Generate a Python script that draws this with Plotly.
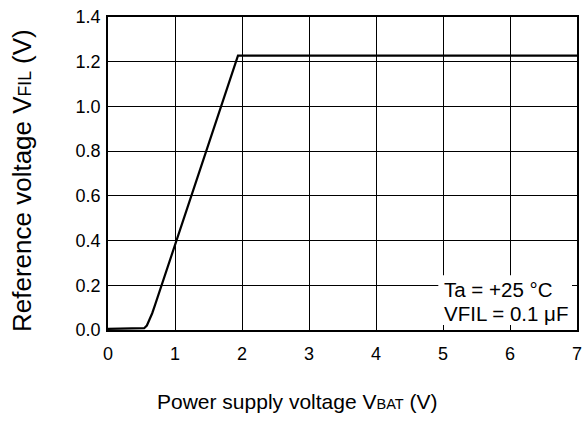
import plotly.graph_objects as go

vbat = [0.0, 0.50, 0.54, 0.58, 0.62, 0.66, 0.70, 0.80, 0.90, 1.00, 1.20, 1.40, 1.60, 1.80, 1.94, 3.0, 5.0, 7.0]
vfil = [0.005, 0.005, 0.008, 0.02, 0.045, 0.075, 0.11, 0.20, 0.29, 0.375, 0.555, 0.735, 0.92, 1.10, 1.227, 1.227, 1.227, 1.227]

x_ticks = [0, 1, 2, 3, 4, 5, 6, 7]
y_ticks = [0.0, 0.2, 0.4, 0.6, 0.8, 1.0, 1.2, 1.4]
y_labels = ["0.0", "0.2", "0.4", "0.6", "0.8", "1.0", "1.2", "1.4"]

FONT = "Liberation Sans, Arial, sans-serif"

W, H = 584, 422
L, R, T, B = 108, 7, 17, 92
pw, ph = W - L - R, H - T - B

def px_to_paper_x(px):
    return (px - L) / pw

def px_to_paper_y(py):
    return (H - B - py) / ph

fig = go.Figure()
fig.add_trace(go.Scatter(x=vbat, y=vfil, mode="lines",
                         line=dict(color="black", width=2.2),
                         hoverinfo="skip", showlegend=False))

fig.add_shape(type="rect", xref="x", yref="y", x0=4.93, x1=7.0, y0=0.0, y1=0.245,
              fillcolor="white", line=dict(width=0), layer="between")

fig.add_annotation(x=4.98, y=0.182, xref="x", yref="y", xanchor="left", yanchor="middle",
                   text="Ta = +25 °C", showarrow=False,
                   font=dict(family=FONT, size=20.5, color="black"))
fig.add_annotation(x=4.98, y=0.072, xref="x", yref="y", xanchor="left", yanchor="middle",
                   text="VFIL = 0.1 μF", showarrow=False,
                   font=dict(family=FONT, size=20.5, color="black"))

# axis titles
fig.add_annotation(x=px_to_paper_x(297), y=px_to_paper_y(401), xref="paper", yref="paper",
                   xanchor="center", yanchor="middle", showarrow=False,
                   text="Power supply voltage V<span style='font-size:14.5px'>BAT</span> (V)",
                   font=dict(family=FONT, size=21, color="black"))
fig.add_annotation(x=px_to_paper_x(22), y=px_to_paper_y(181), xref="paper", yref="paper",
                   xanchor="center", yanchor="middle", showarrow=False, textangle=-90,
                   text="Reference voltage V<span style='font-size:17.5px'>FIL</span> (V)",
                   font=dict(family=FONT, size=26, color="black"))

axis_common = dict(showline=True, linecolor="black", linewidth=1.5, mirror="ticks",
                   ticks="inside", ticklen=5, tickcolor="black", tickwidth=1,
                   showgrid=True, gridcolor="black", gridwidth=1, zeroline=False,
                   automargin=False, ticklabeloverflow="allow",
                   tickfont=dict(family=FONT, size=18, color="black"))

fig.update_xaxes(range=[0, 7], tickvals=x_ticks, ticklabelstandoff=7, **axis_common)
fig.update_yaxes(range=[0, 1.4], tickvals=y_ticks, ticktext=y_labels, ticklabelstandoff=2,
                 **axis_common)

fig.update_layout(width=W, height=H, margin=dict(l=L, r=R, t=T, b=B),
                  plot_bgcolor="white", paper_bgcolor="white")

fig.write_html("out.html", config={"displayModeBar": False},
               post_script="document.body.style.margin='0px';")
